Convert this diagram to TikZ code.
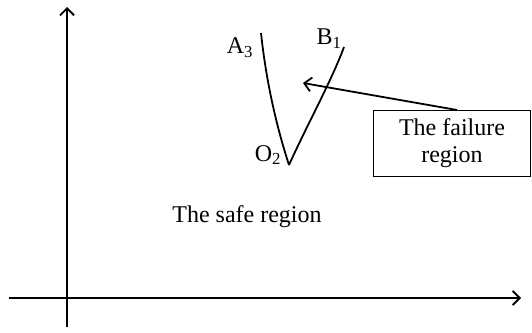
\documentclass[tikz,border=0pt]{standalone}
\usepackage{fontspec}
\setmainfont{Liberation Serif}
\usetikzlibrary{arrows.meta}
\begin{document}
\begin{tikzpicture}[x=1pt,y=-1pt,
  line/.style={line width=1.8pt},
  axis/.style={line width=1.8pt,-{Straight Barb[length=7pt,width=14pt,line width=1.8pt]}},
  lbl/.style={font=\fontsize{24}{27}\selectfont,inner sep=0pt},
  boxnode/.style={draw,line width=0.8pt,font=\fontsize{24}{27}\selectfont,align=center,minimum width=157pt,minimum height=66pt,inner sep=0pt}]
\useasboundingbox (0,0) rectangle (532,332);
\coordinate (ob) at (67,327);
\coordinate (ot) at (67,7);
\coordinate (xl) at (9,298);
\coordinate (xr) at (521,298);
\draw[axis] (ob) -- (ot);
\draw[axis] (xl) -- (xr);
\coordinate (A) at (261,33);
\coordinate (O) at (289,165);
\coordinate (B) at (344,47);
\draw[line] (A) .. controls (266,80) and (276,125) .. (O);
\draw[line] (O) .. controls (307,125) and (331,82) .. (B);
\node[lbl] (a3) at (240,48) {A\textsubscript{3}};
\node[lbl] (b1) at (329,39) {B\textsubscript{1}};
\node[lbl] (o2) at (268,155) {O\textsubscript{2}};
\node[boxnode] (box) at (452,143) {The failure\\region};
\coordinate (tip) at (303,83);
\draw[line,-{Straight Barb[length=7pt,width=14pt,line width=1.8pt]}] (457,110) -- (tip);
\node[lbl] (safe) at (247,217) {The safe region};
\end{tikzpicture}
\end{document}
